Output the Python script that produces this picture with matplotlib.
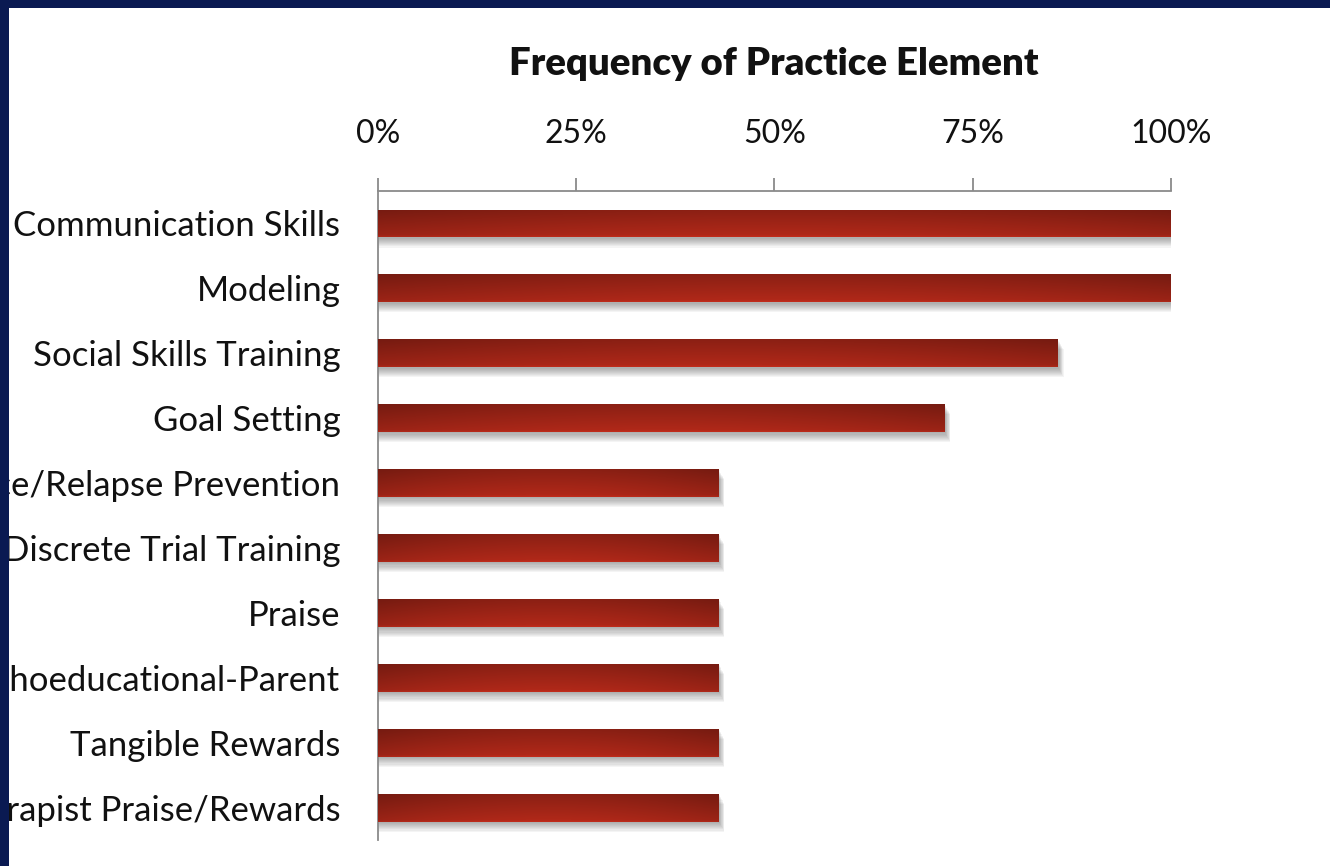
import matplotlib
matplotlib.use('Agg')
import matplotlib.pyplot as plt
import numpy as np
from matplotlib.patches import Rectangle
from matplotlib.ticker import FuncFormatter

# practice elements (top to bottom) and share of programs using them
elements = ['Communication Skills', 'Modeling', 'Social Skills Training', 'Goal Setting',
            'Maintenance/Relapse Prevention', 'Discrete Trial Training', 'Praise',
            'Psychoeducational-Parent', 'Tangible Rewards', 'Therapist Praise/Rewards']
frequency = [1.0, 1.0, 0.857, 0.714, 0.429, 0.429, 0.429, 0.429, 0.429, 0.429]
tick_vals = [0, 0.25, 0.5, 0.75, 1.0]

plt.rcParams['font.family'] = ['Lato', 'DejaVu Sans']

fig = plt.figure(figsize=(13.3, 8.66), dpi=100)
fig.patch.set_facecolor('white')
ax = fig.add_axes([0.2842, 0.030, 0.5962, 0.7494])

y = np.arange(len(elements))
bar_h = 0.43

# soft shadow under each bar (stacked faint layers)
for k in range(9):
    off = 0.02 + k * 0.017
    ax.barh(y + off, [f + 0.002 + k * 0.0007 for f in frequency], height=bar_h,
            color='#404040', alpha=0.055, linewidth=0, zorder=1)

bars = ax.barh(y, frequency, height=bar_h, color='#a32418', linewidth=0, zorder=2)

# gradient fill for the glossy look
vert = np.linspace(0, 1, 40)[:, None]
horiz = np.linspace(0, 1, 200)[None, :]
shade = 0.78 + 0.22 * np.sin(np.pi * (0.15 + 0.7 * horiz)) - 0.22 * vert
shade[:2, :] += 0.08
img = np.clip(shade[..., None] * np.array([0.70, 0.16, 0.10])[None, None, :], 0, 1)
for b in bars:
    x0, y0 = b.get_x(), b.get_y()
    w, h = b.get_width(), b.get_height()
    im = ax.imshow(img, extent=[x0, x0 + w, y0, y0 + h], aspect='auto',
                   origin='upper', zorder=3, interpolation='bilinear')
    im.set_clip_path(b)

ax.set_xlim(0, 1)
ax.set_ylim(len(elements) - 0.5, -0.5)

ax.set_yticks(y)
ax.set_yticklabels(elements, fontsize=25, color='#111111')
ax.tick_params(axis='y', length=0, pad=27)

ax.xaxis.tick_top()
ax.set_xticks(tick_vals)
ax.xaxis.set_major_formatter(FuncFormatter(lambda v, p: f'{int(round(v * 100))}%'))
ax.tick_params(axis='x', direction='out', length=9.5, width=1.3, color='#8a8a8a',
               labelsize=23, labelcolor='#111111', pad=21)

for s in ['right', 'bottom']:
    ax.spines[s].set_visible(False)
for s in ['top', 'left']:
    ax.spines[s].set_color('#8a8a8a')
    ax.spines[s].set_linewidth(1.3)

fig.text(0.5815, 0.926, 'Frequency of Practice Element', fontsize=27.5,
         fontweight='heavy', ha='center', va='center', color='#111111')

# navy slide frame on top/left
navy = '#0a1a52'
fig.patches.append(Rectangle((0, 0), 9 / 1330, 1, transform=fig.transFigure,
                             facecolor=navy, edgecolor='none', zorder=20))
fig.patches.append(Rectangle((0, 1 - 8 / 866), 1, 8 / 866, transform=fig.transFigure,
                             facecolor=navy, edgecolor='none', zorder=20))

plt.savefig('out.png', dpi=100)
